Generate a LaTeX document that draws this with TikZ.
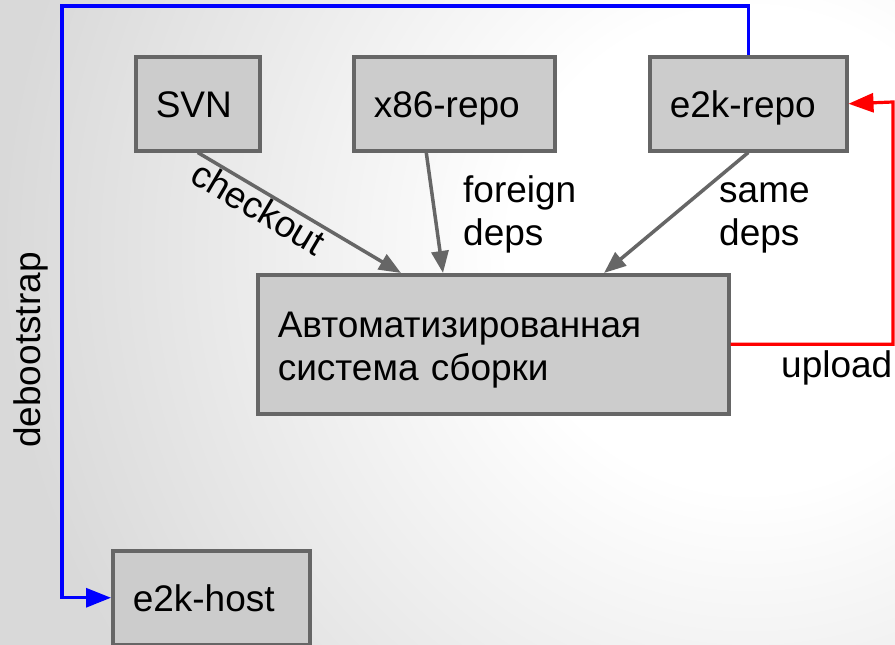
\documentclass[tikz,border=0pt]{standalone}
\usepackage{fontspec}
\setmainfont{Liberation Sans}
\usetikzlibrary{arrows.meta,calc}
\definecolor{bgedge}{gray}{0.85}
\definecolor{boxfill}{HTML}{CCCCCC}
\definecolor{boxline}{HTML}{666666}
\pgfdeclareradialshading{bgglow}{\pgfpoint{0bp}{0bp}}{color(0bp)=(white); color(5bp)=(white); color(15.7bp)=(bgedge); color(50bp)=(bgedge)}

\begin{document}
\begin{tikzpicture}[x=1pt,y=-1pt,
  bigfont/.style={font=\fontsize{37}{43}\selectfont},
  lbl/.style={bigfont, inner sep=0pt, align=left, text width=200pt},
  box/.style={draw=boxline, fill=boxfill, line width=3.5pt, anchor=north west,
    inner xsep=20pt, inner ysep=0pt, align=left, bigfont,
    text height=27pt, text depth=0pt},
  dep/.style={draw=boxline, line width=3.5pt, -{Triangle[length=22pt,width=17pt]}},
  flow/.style={line width=3.2pt, -{Triangle[length=25pt,width=19pt]}}
]
% canvas and soft radial background
\useasboundingbox (0,0) rectangle (895,645);
\begin{scope}
  \clip (0,0) rectangle (895,645);
  \fill[bgedge] (0,0) rectangle (895,645);
  \shade[shading=bgglow] (750,250) circle (1200pt);
\end{scope}

% boxes
\node[box, minimum width=124pt, minimum height=94pt, text width=84pt] (svn) at (134,55) {SVN};
\node[box, minimum width=201pt, minimum height=94pt, text width=161pt] (x86) at (352,55) {x86-repo};
\node[box, minimum width=197pt, minimum height=94pt, text width=157pt] (e2k) at (648,55) {e2k-repo};
\node[box, minimum width=471pt, minimum height=139pt, text width=431pt, text depth=40pt] (auto) at (256,273)
  {Автоматизированная\\система сборки};
\node[box, minimum width=197pt, minimum height=94pt, text width=157pt] (host) at (111,549) {e2k-host};

% dependency arrows into the build system
\draw[dep] (svn.south) -- node[bigfont, sloped, below, pos=0.34, inner sep=1pt] (chk) {checkout}
  ($(auto.north west)+(145,0)$);
\draw[dep] ($(x86.south)+(-28,0)$) -- ($(auto.north west)+(187,0)$);
\draw[dep] (e2k.south) -- ($(auto.north west)+(348,0)$);

\node[lbl, anchor=base west] (foreign) at (463,202) {foreign\\deps};
\node[lbl, anchor=base west] (same) at (719,202) {same\\deps};

% upload back to the e2k repository
\coordinate (upcorner) at (893,102);
\draw[flow, red] (auto.east) -| (upcorner) -- (e2k.east);
\node[lbl, anchor=base west] (upload) at (781,377) {upload};

% debootstrap from the repository to the host
\coordinate (topleft) at (62,6);
\draw[flow, blue] (e2k.north) |- (topleft) |- (host.west);
\node[bigfont, rotate=90, anchor=base, inner sep=0pt] (deboot) at (40,350) {debootstrap};
\end{tikzpicture}
\end{document}
